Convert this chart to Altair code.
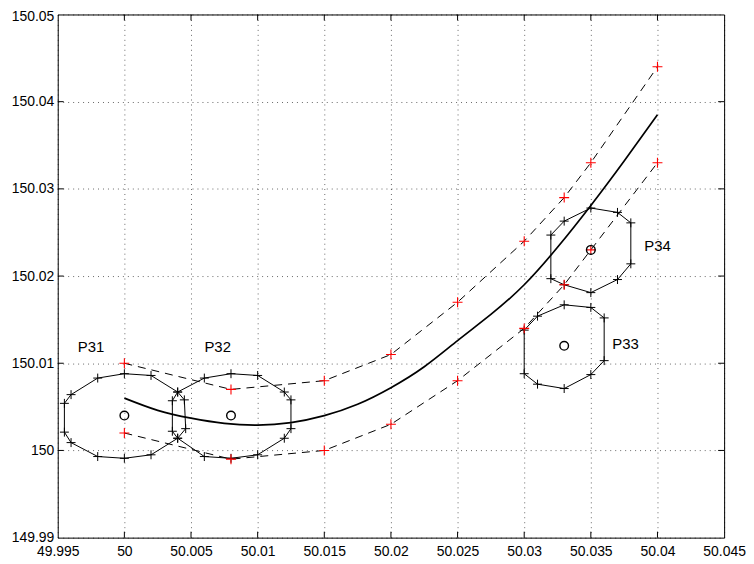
import altair as alt
import pandas as pd

# ---------------- data ----------------
x_ticks = [49.995, 50.0, 50.005, 50.01, 50.015, 50.02, 50.025, 50.03, 50.035, 50.04, 50.045]
y_ticks = [149.99, 150.0, 150.01, 150.02, 150.03, 150.04, 150.05]

# red "+" points on the upper and lower dashed boundaries
upper_x = [50.0, 50.008, 50.015, 50.02, 50.025, 50.03, 50.033, 50.035, 50.04]
upper_y = [150.010, 150.007, 150.008, 150.011, 150.017, 150.024, 150.029, 150.033, 150.044]
lower_x = [50.0, 50.008, 50.015, 50.02, 50.025, 50.03, 50.033, 50.035, 50.04]
lower_y = [150.002, 149.999, 150.000, 150.003, 150.008, 150.014, 150.019, 150.023, 150.033]

# solid centre curve
curve_x = [50.0, 50.0025, 50.005, 50.0075, 50.01, 50.0125, 50.015, 50.0175, 50.02,
           50.0225, 50.025, 50.0275, 50.03, 50.0325, 50.035, 50.0375, 50.04]
curve_y = [150.0060, 150.0046, 150.0037, 150.0031, 150.0029, 150.0032, 150.0040, 150.0053,
           150.0072, 150.0096, 150.0126, 150.0156, 150.0190, 150.0233, 150.0281, 150.0332, 150.0385]

# polygons (vertices in drawing order)
p31_x = [49.998, 50.0, 50.002, 50.004, 50.0045, 50.0046, 50.004, 50.002, 50.0, 49.998, 49.996, 49.9955, 49.9955, 49.996]
p31_y = [150.0083, 150.0088, 150.0086, 150.0067, 150.0058, 150.0025, 150.0014, 149.9995, 149.9991, 149.9993, 150.0009, 150.0021, 150.0054, 150.0064]
p32_x = [50.006, 50.008, 50.010, 50.012, 50.0125, 50.0125, 50.012, 50.010, 50.008, 50.006, 50.004, 50.0036, 50.0036, 50.004]
p32_y = [150.0083, 150.0088, 150.0086, 150.0067, 150.0058, 150.0025, 150.0014, 149.9995, 149.9991, 149.9993, 150.0014, 150.0022, 150.0057, 150.0067]
p33_x = [50.030, 50.031, 50.033, 50.035, 50.036, 50.036, 50.035, 50.033, 50.031, 50.030]
p33_y = [150.0138, 150.0154, 150.0167, 150.0164, 150.0152, 150.0103, 150.0087, 150.0071, 150.0076, 150.0088]
p34_x = [50.035, 50.037, 50.038, 50.038, 50.037, 50.035, 50.033, 50.032, 50.032, 50.033]
p34_y = [150.0278, 150.0273, 150.0261, 150.0214, 150.0196, 150.0181, 150.0190, 150.0197, 150.0247, 150.0263]

# centres (open circles)
centre_x = [50.0, 50.008, 50.033, 50.035]
centre_y = [150.004, 150.004, 150.012, 150.023]

# labels
label_text = ["P31", "P32", "P33", "P34"]
label_x = [49.9975, 50.007, 50.0376, 50.0400]
label_y = [150.0119, 150.0119, 150.0122, 150.0235]

# ---------------- build tables ----------------
W, H = 670, 526
FONT = "Liberation Sans"

xs = alt.Scale(domain=[49.995, 50.045], nice=False, zero=False)
ys = alt.Scale(domain=[149.99, 150.05], nice=False, zero=False)

dash_df = pd.DataFrame(
    [{"x": x, "y": y, "line": "upper", "i": i} for i, (x, y) in enumerate(zip(upper_x, upper_y))]
    + [{"x": x, "y": y, "line": "lower", "i": i} for i, (x, y) in enumerate(zip(lower_x, lower_y))]
)
curve_df = pd.DataFrame({"x": curve_x, "y": curve_y})

poly_rows = []
vert_rows = []
for name, px, py in [("P31", p31_x, p31_y), ("P32", p32_x, p32_y), ("P33", p33_x, p33_y), ("P34", p34_x, p34_y)]:
    n = len(px)
    for i in range(n + 1):
        poly_rows.append({"x": px[i % n], "y": py[i % n], "poly": name, "i": i})
    for i in range(n):
        vert_rows.append({"x": px[i], "y": py[i]})
poly_df = pd.DataFrame(poly_rows)
vert_df = pd.DataFrame(vert_rows)

red_df = pd.DataFrame({"x": upper_x + lower_x, "y": upper_y + lower_y})
centre_df = pd.DataFrame({"x": centre_x, "y": centre_y})
label_df = pd.DataFrame({"x": label_x, "y": label_y, "t": label_text})

PLUS = "M-1,0H1M0,-1V1"

X = lambda: alt.X("x:Q", scale=xs, axis=alt.Axis(
    values=x_ticks, format=".3~f", title=None, grid=True, gridDash=[1, 4], gridColor="#000",
    gridOpacity=0.6, ticks=False, domain=False, labelPadding=7, labelFontSize=14,
    labelFont=FONT, labelColor="#000", labelFlush=False))
Y = lambda: alt.Y("y:Q", scale=ys, axis=alt.Axis(
    values=y_ticks, format=".2~f", title=None, grid=True, gridDash=[1, 4], gridColor="#000",
    gridOpacity=0.6, ticks=False, domain=False, labelPadding=4, labelFontSize=14,
    labelFont=FONT, labelColor="#000", labelFlush=False,
    labelOffset={"condition": {"test": "datum.value > 150.045", "value": 2.5}, "value": 0}))

base_axes = alt.Chart(curve_df).mark_point(opacity=0).encode(x=X(), y=Y())

dashed = alt.Chart(dash_df).mark_line(color="black", strokeWidth=1, strokeDash=[8, 6]).encode(
    x=alt.X("x:Q", scale=xs), y=alt.Y("y:Q", scale=ys), detail="line:N", order="i:Q")

curve = alt.Chart(curve_df).mark_line(color="black", strokeWidth=1.7, interpolate="natural").encode(
    x=alt.X("x:Q", scale=xs), y=alt.Y("y:Q", scale=ys))

polys = alt.Chart(poly_df).mark_line(color="black", strokeWidth=1).encode(
    x=alt.X("x:Q", scale=xs), y=alt.Y("y:Q", scale=ys), detail="poly:N", order="i:Q")

verts = alt.Chart(vert_df).mark_point(shape=PLUS, size=81, filled=False, stroke="black",
                                      strokeWidth=1, opacity=1).encode(
    x=alt.X("x:Q", scale=xs), y=alt.Y("y:Q", scale=ys))

reds = alt.Chart(red_df).mark_point(shape=PLUS, size=100, filled=False, stroke="#ff0000",
                                    strokeWidth=1.1, opacity=1).encode(
    x=alt.X("x:Q", scale=xs), y=alt.Y("y:Q", scale=ys))

centres = alt.Chart(centre_df).mark_point(shape="circle", size=75, filled=False, stroke="black",
                                          strokeWidth=1.4, opacity=1).encode(
    x=alt.X("x:Q", scale=xs), y=alt.Y("y:Q", scale=ys))

labels = alt.Chart(label_df).mark_text(font=FONT, fontSize=15, color="black", align="center",
                                       baseline="middle").encode(
    x=alt.X("x:Q", scale=xs), y=alt.Y("y:Q", scale=ys), text="t:N")

# inward ticks on all four sides
xt_df = pd.DataFrame({"x": x_ticks[1:-1]})
yt_df = pd.DataFrame({"y": y_ticks[1:-1]})
tick_style = dict(color="black", strokeWidth=1)
tb = alt.Chart(xt_df).mark_rule(**tick_style).encode(
    x=alt.X("x:Q", scale=xs), y=alt.value(H), y2=alt.value(H - 6))
tt = alt.Chart(xt_df).mark_rule(**tick_style).encode(
    x=alt.X("x:Q", scale=xs), y=alt.value(0), y2=alt.value(6))
tl = alt.Chart(yt_df).mark_rule(**tick_style).encode(
    y=alt.Y("y:Q", scale=ys), x=alt.value(0), x2=alt.value(6))
tr = alt.Chart(yt_df).mark_rule(**tick_style).encode(
    y=alt.Y("y:Q", scale=ys), x=alt.value(W), x2=alt.value(W - 6))

chart = alt.layer(
    base_axes, dashed, curve, polys, verts, reds, centres, labels, tb, tt, tl, tr
).properties(
    width=W, height=H,
    autosize=alt.AutoSizeParams(type="none"),
    padding={"left": 50, "top": 5, "right": 22, "bottom": 25},
    background="white",
).configure_view(stroke="black", strokeWidth=1)

chart.save("out.html", embed_options={"renderer": "svg", "actions": False})
